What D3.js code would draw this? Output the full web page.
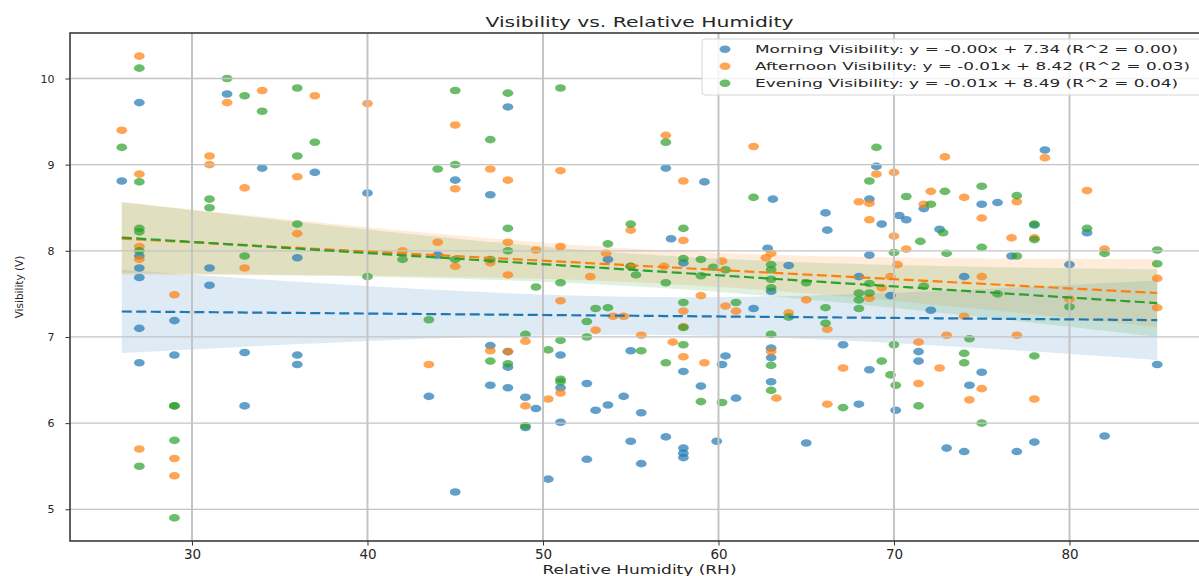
<!DOCTYPE html>
<html>
<head>
<meta charset="utf-8">
<script src="https://cdn.jsdelivr.net/npm/d3@7"></script>
<style>
    body { margin: 0; background: #fff; }
    svg text { font-family: "DejaVu Sans", sans-serif; fill: #262626; }
</style>
</head>
<body>
<div id="chart"></div>
<script>
// tick values and texts
const xTicks = [30, 40, 50, 60, 70, 80];
const yTicks = [5, 6, 7, 8, 9, 10];
const titleText = "Visibility vs. Relative Humidity";
const xLabel = "Relative Humidity (RH)";
const yLabel = "Visibility (V)";
const legendLabels = [
    "Morning Visibility: y = -0.00x + 7.34 (R^2 = 0.00)",
    "Afternoon Visibility: y = -0.01x + 8.42 (R^2 = 0.03)",
    "Evening Visibility: y = -0.01x + 8.49 (R^2 = 0.04)"
];
const seriesColors = ["#1f77b4", "#ff7f0e", "#2ca02c"];

// fitted lines as drawn in the picture (legend rounds the slopes)
const fitSlopes = [-0.0017, -0.0107, -0.0129];
const fitIntercepts = [7.34, 8.42, 8.49];

// [relative humidity, visibility]
const morningPoints = [
    [26, 8.81], [27, 9.72], [27, 7.94], [27, 7.80], [27, 7.69], [27, 7.10], [27, 6.70],
    [29, 7.19], [29, 6.79], [31, 7.80], [31, 7.60], [32, 9.82], [33, 6.82], [33, 6.20],
    [34, 8.96], [36, 7.92], [36, 6.79], [36, 6.68], [37, 8.91], [40, 8.67], [43.5, 6.31],
    [44, 7.95], [45, 8.82], [45, 5.20], [47, 8.65], [47, 6.90], [47, 6.44], [48, 9.67],
    [48, 6.83], [48, 6.65], [48, 6.41], [49, 6.30], [49, 5.95], [49.6, 6.17], [50.3, 5.35],
    [51, 6.79], [51, 6.41], [51, 6.01], [52.5, 6.46], [52.5, 5.58], [53, 6.15], [53.7, 7.90],
    [53.7, 6.21], [54.6, 6.31], [55, 6.84], [55, 5.79], [55.6, 6.12], [55.6, 5.53], [57, 8.96],
    [57, 5.84], [57.3, 8.14], [58, 7.86], [58, 6.60], [58, 5.71], [58, 5.65], [58, 5.60],
    [59, 6.43], [59.2, 8.80], [59.9, 5.79], [60.2, 6.68], [60.4, 6.78], [61, 6.29], [62, 7.33],
    [62.8, 8.03], [63.1, 8.60], [63, 7.53], [63, 6.87], [63, 6.76], [63, 6.48], [64, 7.83],
    [65, 5.77], [66.1, 8.44], [66.2, 8.24], [67.1, 6.91], [68, 7.70], [68, 6.22], [68.6, 8.60],
    [68.6, 7.95], [68.6, 6.62], [69, 8.98], [69.3, 8.31], [69.8, 7.48], [70.1, 6.15], [70.3, 8.41],
    [70.7, 8.36], [71.4, 6.83], [71.4, 6.72], [71.7, 8.49], [72.1, 7.31], [72.6, 8.25], [73, 5.71],
    [74, 7.70], [74, 5.67], [74.3, 6.44], [75, 8.54], [75, 6.59], [75.9, 8.56], [76.7, 7.94],
    [77, 5.67], [78, 8.30], [78, 5.78], [78.6, 9.17], [80, 7.84], [81, 8.21], [82, 5.85], [85, 6.68]
];
const afternoonPoints = [
    [26, 9.40], [27, 10.26], [27, 8.89], [27, 8.05], [27, 7.90], [27, 5.70], [29, 7.49],
    [29, 5.59], [29, 5.39], [31, 9.10], [31, 9.00], [32, 9.72], [33, 8.73], [33, 7.80],
    [34, 9.86], [36, 8.86], [36, 8.20], [37, 9.80], [40, 9.71], [42, 8.00], [43.5, 6.68],
    [44, 8.10], [45, 9.46], [45, 8.72], [45, 7.82], [47, 8.95], [47, 7.86], [47, 6.84],
    [48, 8.82], [48, 8.10], [48, 7.72], [48, 6.83], [49, 6.95], [49, 6.20], [49.6, 8.01],
    [50.3, 6.28], [51, 8.93], [51, 8.05], [51, 7.42], [51, 6.35], [52.7, 7.70], [53, 7.08],
    [53.6, 7.97], [54, 7.24], [54.6, 7.24], [55, 8.24], [55, 7.82], [55.6, 7.02], [57, 9.34],
    [56.9, 7.82], [57.4, 6.94], [58, 8.81], [58, 8.12], [58, 7.30], [58, 7.12], [58, 6.77],
    [59, 7.48], [59.2, 6.70], [60.2, 7.88], [60.4, 7.36], [61, 7.30], [62, 9.21], [63, 7.97],
    [62.7, 7.92], [63, 6.83], [63.3, 6.29], [64, 7.28], [65, 7.43], [66.2, 7.09], [66.2, 6.22],
    [67.1, 6.64], [68, 8.57], [68.6, 8.55], [68.6, 8.36], [68.6, 7.45], [69, 8.89], [69.3, 7.57],
    [69.8, 7.70], [70, 8.91], [70, 8.17], [70.2, 7.84], [70.7, 8.02], [71.4, 6.94], [71.4, 6.46],
    [71.7, 8.54], [72.1, 8.69], [72.6, 6.64], [72.9, 9.09], [73, 7.02], [74, 8.62], [74, 7.24],
    [74.3, 6.27], [75, 8.38], [75, 7.70], [75, 6.40], [76.7, 8.15], [77, 8.57], [77, 7.02],
    [78, 8.15], [78, 6.28], [78.6, 9.08], [80, 7.44], [81, 8.70], [82, 8.02], [85, 7.68], [85, 7.34]
];
const eveningPoints = [
    [26, 9.20], [27, 10.12], [27, 8.80], [27, 8.26], [27, 8.22], [27, 8.00], [27, 5.50],
    [29, 6.20], [29, 6.20], [29, 5.80], [29, 4.90], [31, 8.60], [31, 8.50], [32, 10.00],
    [33, 9.80], [33, 7.94], [34, 9.62], [36, 9.89], [36, 9.10], [36, 8.31], [37, 9.26],
    [40, 7.70], [42, 7.90], [43.5, 7.20], [44, 8.95], [45, 9.86], [45, 9.00], [45, 7.90],
    [47, 9.29], [47, 7.90], [47, 6.72], [48, 9.83], [48, 8.26], [48, 8.00], [48, 6.69],
    [49, 7.03], [49, 5.97], [49.6, 7.58], [50.3, 6.85], [51, 9.89], [51, 7.63], [51, 6.96],
    [51, 6.51], [51, 6.48], [52.5, 7.18], [52.5, 7.00], [53, 7.33], [53.7, 8.08], [53.7, 7.34],
    [55, 8.31], [55, 7.82], [55.3, 7.72], [55.6, 6.84], [57, 9.26], [57, 7.63], [57, 6.70],
    [58, 8.26], [58, 7.91], [58, 7.40], [58, 7.11], [58, 6.91], [59, 7.90], [59, 7.71],
    [59, 6.25], [59.7, 7.81], [60.4, 7.78], [60.2, 6.24], [61, 7.40], [62, 8.62], [63, 7.84],
    [63, 7.78], [63, 7.67], [63, 7.57], [63, 7.03], [63, 6.67], [63, 6.38], [64, 7.23],
    [65, 7.63], [66.1, 7.34], [66.1, 7.16], [67.1, 6.18], [68, 7.51], [68, 7.43], [68, 7.33],
    [68.6, 8.81], [68.6, 7.62], [68.6, 7.51], [69, 9.20], [69.3, 6.72], [69.8, 6.56], [70, 7.98],
    [70, 6.91], [70.1, 6.44], [70.7, 8.63], [71.4, 6.20], [71.5, 8.11], [71.7, 7.59], [72.1, 8.54],
    [72.8, 8.21], [72.9, 8.69], [73, 7.97], [74, 6.81], [74, 6.70], [74.3, 6.98], [75, 8.75],
    [75, 8.04], [75, 6.00], [75.9, 7.50], [77, 8.64], [77, 7.94], [78, 8.31], [78, 8.13],
    [78, 6.78], [80, 7.35], [81, 8.26], [82, 7.97], [85, 8.01], [85, 7.85]
];

class ScatterRegViz {
    constructor(parentElement, seriesList) {
        this.parentElement = parentElement;
        this.seriesList = seriesList;
        this.initVis();
    }

    initVis() {
        let vis = this;

        // plot box runs a bit past the right edge of the window (like the original)
        vis.margin = {top: 33, left: 70};
        vis.width = 1139;
        vis.height = 508;

        vis.svg = d3.select("#" + vis.parentElement).append("svg")
            .attr("width", 1199)
            .attr("height", 576);

        vis.g = vis.svg.append("g")
            .attr("transform", "translate(" + vis.margin.left + "," + vis.margin.top + ")");

        // matplotlib style 5% margins around the data
        let allPts = vis.seriesList.flatMap(s => s.points);
        let xExt = d3.extent(allPts, d => d[0]);
        let yExt = d3.extent(allPts, d => d[1]);
        let xPad = (xExt[1] - xExt[0]) * 0.05;
        let yPad = (yExt[1] - yExt[0]) * 0.05;

        vis.x = d3.scaleLinear()
            .domain([xExt[0] - xPad, xExt[1] + xPad])
            .range([0, vis.width]);

        vis.y = d3.scaleLinear()
            .domain([yExt[0] - yPad, yExt[1] + yPad])
            .range([vis.height, 0]);

        vis.wrangleData();
    }

    wrangleData() {
        let vis = this;

        // fitted line + 95% confidence band (spread taken from the points)
        vis.seriesList.forEach(s => {
            let n = s.points.length;
            let mx = d3.mean(s.points, d => d[0]);
            let sxx = d3.sum(s.points, d => (d[0] - mx) ** 2);
            let sse = d3.sum(s.points, d => (d[1] - (s.icpt + s.slope * d[0])) ** 2);
            let sd = Math.sqrt(sse / (n - 2));
            let ext = d3.extent(s.points, d => d[0]);
            s.fit = d3.range(100).map(i => {
                let xv = ext[0] + (ext[1] - ext[0]) * i / 99;
                let yv = s.icpt + s.slope * xv;
                let se = sd * Math.sqrt(1 / n + (xv - mx) ** 2 / sxx);
                return {x: xv, y: yv, lo: yv - 1.984 * se, hi: yv + 1.984 * se};
            });
        });

        vis.updateVis();
    }

    updateVis() {
        let vis = this;

        // confidence bands
        let area = d3.area()
            .x(d => vis.x(d.x))
            .y0(d => vis.y(d.lo))
            .y1(d => vis.y(d.hi));

        vis.g.selectAll(".band")
            .data(vis.seriesList)
            .enter().append("path")
            .attr("class", "band")
            .attr("d", s => area(s.fit))
            .attr("fill", s => s.color)
            .attr("fill-opacity", 0.15);

        // scatter points (ellipses: the picture is stretched sideways)
        vis.seriesList.forEach(s => {
            vis.g.append("g").selectAll("ellipse")
                .data(s.points)
                .enter().append("ellipse")
                .attr("cx", d => vis.x(d[0]))
                .attr("cy", d => vis.y(d[1]))
                .attr("rx", 5.4)
                .attr("ry", 3.8)
                .attr("fill", s.color)
                .attr("fill-opacity", 0.7);
        });

        // grid
        vis.g.append("g").selectAll("line")
            .data(xTicks)
            .enter().append("line")
            .attr("x1", d => vis.x(d)).attr("x2", d => vis.x(d))
            .attr("y1", 0).attr("y2", vis.height)
            .attr("stroke", "#c4c4c4")
            .attr("stroke-width", 2);

        vis.g.append("g").selectAll("line")
            .data(yTicks)
            .enter().append("line")
            .attr("x1", 0).attr("x2", vis.width)
            .attr("y1", d => vis.y(d)).attr("y2", d => vis.y(d))
            .attr("stroke", "#c4c4c4")
            .attr("stroke-width", 1.3);

        // regression lines
        let line = d3.line()
            .x(d => vis.x(d.x))
            .y(d => vis.y(d.y));

        vis.g.selectAll(".reg")
            .data(vis.seriesList)
            .enter().append("path")
            .attr("class", "reg")
            .attr("d", s => line(s.fit))
            .attr("fill", "none")
            .attr("stroke", s => s.color)
            .attr("stroke-width", 2.2)
            .attr("stroke-dasharray", "10,4.5");

        // axes
        let xAxis = d3.axisBottom(vis.x).tickValues(xTicks).tickSize(4.5).tickPadding(3.5);
        let yAxis = d3.axisLeft(vis.y).tickValues(yTicks).tickFormat(d3.format("d"))
            .tickSize(4.5).tickPadding(11);

        let xg = vis.g.append("g")
            .attr("transform", "translate(0," + vis.height + ")")
            .call(xAxis);
        xg.selectAll("text").attr("font-size", 13.5).attr("fill", "#262626");

        let yg = vis.g.append("g").call(yAxis);
        yg.selectAll("text").attr("font-size", 11).attr("fill", "#262626");

        vis.g.selectAll(".domain").remove();
        vis.g.selectAll(".tick line").attr("stroke", "#333");

        // frame
        vis.g.append("rect")
            .attr("width", vis.width)
            .attr("height", vis.height)
            .attr("fill", "none")
            .attr("stroke", "#3a3a3a")
            .attr("stroke-width", 1.6);

        // titles
        vis.svg.append("text")
            .attr("x", vis.margin.left + vis.width / 2)
            .attr("y", 27)
            .attr("text-anchor", "middle")
            .attr("font-size", 14.5)
            .attr("textLength", 308)
            .attr("lengthAdjust", "spacingAndGlyphs")
            .text(titleText);

        vis.svg.append("text")
            .attr("x", vis.margin.left + vis.width / 2)
            .attr("y", 574)
            .attr("text-anchor", "middle")
            .attr("font-size", 12)
            .attr("textLength", 194)
            .attr("lengthAdjust", "spacingAndGlyphs")
            .text(xLabel);

        vis.svg.append("text")
            .attr("transform", "translate(23," + (vis.margin.top + vis.height / 2) + ") rotate(-90)")
            .attr("text-anchor", "middle")
            .attr("font-size", 10.5)
            .text(yLabel);

        // legend
        let leg = vis.svg.append("g");
        leg.append("rect")
            .attr("x", 702).attr("y", 39)
            .attr("width", 505).attr("height", 56)
            .attr("rx", 3)
            .attr("fill", "#fff").attr("fill-opacity", 0.8)
            .attr("stroke", "#d6d6d6");

        let rows = leg.selectAll(".row")
            .data(vis.seriesList)
            .enter().append("g")
            .attr("transform", (d, i) => "translate(0," + (49.3 + i * 17) + ")");

        rows.append("ellipse")
            .attr("cx", 725).attr("cy", 0)
            .attr("rx", 5.4).attr("ry", 3.8)
            .attr("fill", d => d.color)
            .attr("fill-opacity", 0.7);

        rows.append("text")
            .attr("x", 755)
            .attr("y", 4)
            .attr("font-size", 11)
            .attr("textLength", (d, i) => [423, 435, 423][i])
            .attr("lengthAdjust", "spacingAndGlyphs")
            .text(d => d.label);
    }
}

let viz = new ScatterRegViz("chart", [0, 1, 2].map(i => ({
    label: legendLabels[i],
    color: seriesColors[i],
    slope: fitSlopes[i],
    icpt: fitIntercepts[i],
    points: [morningPoints, afternoonPoints, eveningPoints][i]
})));
</script>
</body>
</html>
